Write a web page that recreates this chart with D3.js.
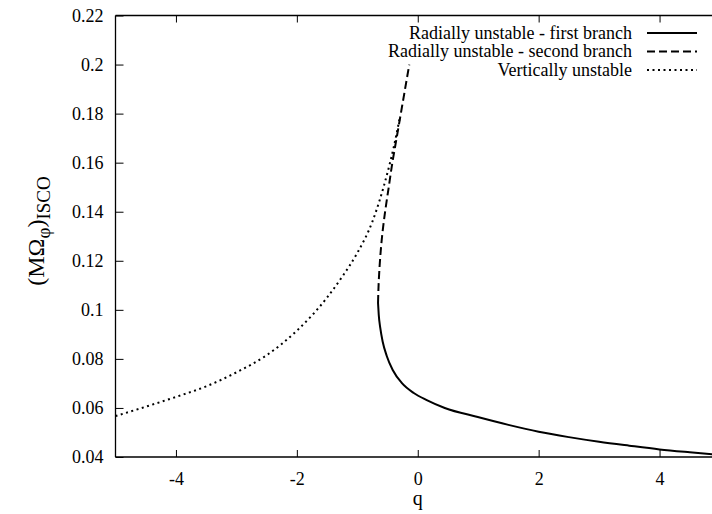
<!DOCTYPE html>
<html>
<head>
<meta charset="utf-8">
<script src="https://cdn.jsdelivr.net/npm/d3@7"></script>
<style>
  body { margin: 0; background: #fff; }
  svg { display: block; }
  text { font-family: "Liberation Serif", "Times New Roman", Times, "DejaVu Serif", serif; }
</style>
</head>
<body>
<svg id="chart"></svg>
<script>
// data: q vs (M Omega_phi)_ISCO
const firstBranch = [
  [-0.657, 0.1028], [-0.645, 0.0979], [-0.62, 0.0926], [-0.579, 0.0869], [-0.513, 0.0812],
  [-0.414, 0.0755], [-0.265, 0.0702], [-0.066, 0.0661], [0.149, 0.0632], [0.447, 0.0600],
  [0.993, 0.0563], [1.5, 0.0531], [2, 0.0503], [2.5, 0.0481], [3, 0.0462],
  [3.5, 0.0446], [4, 0.0431], [4.5, 0.0419], [5, 0.0408]
];
const secondBranch = [
  [-0.657, 0.1028], [-0.648, 0.110], [-0.625, 0.120], [-0.59, 0.130], [-0.54, 0.140],
  [-0.48, 0.150], [-0.42, 0.160], [-0.35, 0.170], [-0.28, 0.180], [-0.21, 0.190],
  [-0.14, 0.200]
];
const verticalBranch = [
  [-5, 0.0567], [-4.5, 0.0605], [-4, 0.0645], [-3.5, 0.0688], [-3, 0.0745],
  [-2.5, 0.0815], [-2, 0.0915], [-1.5, 0.105], [-1.25, 0.1135], [-1, 0.1232],
  [-0.75, 0.136], [-0.5, 0.156], [-0.4, 0.166], [-0.3, 0.178]
];
const xTicks = [-4, -2, 0, 2, 4];
const yTicks = [0.04, 0.06, 0.08, 0.1, 0.12, 0.14, 0.16, 0.18, 0.2, 0.22];
const legendLabels = [
  "Radially unstable - first branch",
  "Radially unstable - second branch",
  "Vertically unstable"
];
const dashes = [null, "8,4", "2,3.5"];
const serif = "'Liberation Serif', 'Times New Roman', Times, 'DejaVu Serif', serif";

const W = 712, H = 514;
const svg = d3.select("#chart").attr("width", W).attr("height", H)
  .attr("font-family", serif);

// plot area runs past the right edge of the window
const x = d3.scaleLinear().domain([-5, 5]).range([115.5, 720]);
const y = d3.scaleLinear().domain([0.04, 0.22]).range([457, 15.5]);

const g = svg.append("g");

// frame
[[-5, 5, 0.04, 0.04], [-5, 5, 0.22, 0.22], [-5, -5, 0.04, 0.22]].forEach(f => {
  g.append("line").attr("x1", x(f[0])).attr("x2", x(f[1])).attr("y1", y(f[2])).attr("y2", y(f[3]))
    .attr("stroke", "#000").attr("stroke-width", 1.3);
});

// axes with inward ticks
const bottomAxis = d3.axisBottom(x).tickValues(xTicks).tickSize(-7).tickPadding(15)
  .tickFormat(d => String(d));
g.append("g").attr("transform", `translate(0,${y(0.04)})`).call(bottomAxis)
  .call(a => a.select(".domain").remove());
const topAxis = d3.axisTop(x).tickValues(xTicks).tickSize(-7).tickFormat("");
g.append("g").attr("transform", `translate(0,${y(0.22)})`).call(topAxis)
  .call(a => a.select(".domain").remove());
const leftAxis = d3.axisLeft(y).tickValues(yTicks).tickSize(-8).tickPadding(12)
  .tickFormat(d => String(+d.toFixed(2)));
g.append("g").attr("transform", `translate(${x(-5)},0)`).call(leftAxis)
  .call(a => a.select(".domain").remove());

g.selectAll("g").attr("font-family", serif).attr("font-size", 18);
g.selectAll(".tick line").attr("stroke", "#000").attr("stroke-width", 1);
g.selectAll(".tick text").attr("fill", "#000");

// axis titles
svg.append("text").attr("x", x(0)).attr("y", 505).attr("text-anchor", "middle")
  .attr("font-size", 20).text("q");
const yl = svg.append("text").attr("transform", `translate(44,231) rotate(-90)`)
  .attr("text-anchor", "middle").attr("font-size", 24);
yl.append("tspan").text("(MΩ");
yl.append("tspan").attr("baseline-shift", "-30%").attr("font-size", 19).text("φ");
yl.append("tspan").text(")");
yl.append("tspan").attr("baseline-shift", "-30%").attr("font-size", 19).text("ISCO");

// curves
const smooth = d3.line().x(d => x(d[0])).y(d => y(d[1])).curve(d3.curveMonotoneX);
const spline = d3.line().x(d => x(d[0])).y(d => y(d[1])).curve(d3.curveCatmullRom.alpha(0.5));
const series = [firstBranch, secondBranch, verticalBranch];
const gens = [smooth, spline, smooth];
svg.append("clipPath").attr("id", "plotclip").append("rect")
  .attr("x", x(-5)).attr("y", y(0.22)).attr("width", x(5) - x(-5)).attr("height", y(0.04) - y(0.22));
series.forEach((s, i) => {
  g.append("path").datum(s).attr("d", gens[i]).attr("fill", "none")
    .attr("stroke", "#000").attr("stroke-width", 2)
    .attr("stroke-dasharray", dashes[i])
    .attr("clip-path", "url(#plotclip)");
});

// legend
legendLabels.forEach((lab, i) => {
  const ly = 33 + i * 18.5;
  svg.append("text").attr("x", 632).attr("y", ly + 5.5).attr("text-anchor", "end")
    .attr("font-size", 18).text(lab);
  svg.append("line").attr("x1", 647).attr("x2", 697).attr("y1", ly).attr("y2", ly)
    .attr("stroke", "#000").attr("stroke-width", 2).attr("stroke-dasharray", dashes[i]);
});
</script>
</body>
</html>
